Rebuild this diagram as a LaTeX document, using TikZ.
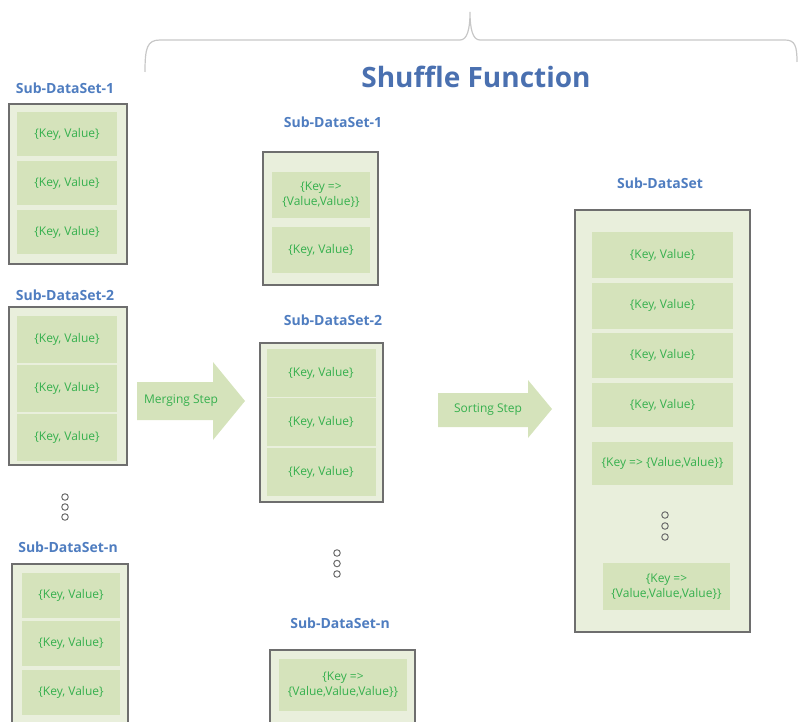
\documentclass[tikz,border=0pt]{standalone}
\usepackage{fontspec}
\setmainfont{Open Sans}
\definecolor{boxfill}{HTML}{E9EFDC}
\definecolor{cellfill}{HTML}{D5E3BB}
\definecolor{celltext}{HTML}{36B04E}
\definecolor{labelblue}{HTML}{4F7DC0}
\definecolor{titleblue}{HTML}{4A70B0}
\definecolor{edge}{HTML}{6E6E6E}
\tikzset{
  outer/.style={draw=edge, line width=1.3pt, fill=boxfill, inner sep=0pt},
  cell/.style={fill=cellfill, text=celltext, inner sep=0pt, align=center, font=\fontsize{12}{15}\selectfont},
  dslabel/.style={text=labelblue, font=\fontsize{14}{16}\selectfont\bfseries},
  dotc/.style={draw=edge, line width=1pt, circle, inner sep=0pt, minimum size=6.5pt},
  steparrow/.style={fill=cellfill, draw=none},
  steptext/.style={text=celltext, font=\fontsize{12}{14}\selectfont}
}
\begin{document}
\begin{tikzpicture}[x=1pt,y=-1pt]
\useasboundingbox (0,0) rectangle (798,722);
\clip (0,0) rectangle (798,722);
% brace
\draw[draw=black!22, line width=1.2pt] (145,72) .. controls (145,48) and (147,40) .. (160,40) -- (460,40) .. controls (467,40) and (470,30) .. (470,12) .. controls (470,30) and (473,40) .. (480,40) -- (785,40) .. controls (795,40) and (797,46) .. (797,62);
\node[text=titleblue, font=\fontsize{28}{32}\selectfont\bfseries] (title) at (476,77) {Shuffle Function};

% left column
\node[dslabel] (lab1) at (65,88) {Sub-DataSet-1};
\node[outer, minimum width=118pt, minimum height=160pt] (L1) at (68,184) {};
\node[cell, minimum width=100pt, minimum height=44pt] (L1a) at (67,134) {\{Key, Value\}};
\node[cell, minimum width=100pt, minimum height=44pt] (L1b) at (67,183) {\{Key, Value\}};
\node[cell, minimum width=100pt, minimum height=44pt] (L1c) at (67,232) {\{Key, Value\}};

\node[dslabel] (lab2) at (65,295) {Sub-DataSet-2};
\node[outer, minimum width=118pt, minimum height=158pt] (L2) at (68,386) {};
\node[cell, minimum width=100pt, minimum height=47pt] (L2a) at (67,339) {\{Key, Value\}};
\node[cell, minimum width=100pt, minimum height=47pt] (L2b) at (67,388) {\{Key, Value\}};
\node[cell, minimum width=100pt, minimum height=47pt] (L2c) at (67,437) {\{Key, Value\}};

\node[dotc] (ld1) at (65,497) {};
\node[dotc] (ld2) at (65,507) {};
\node[dotc] (ld3) at (65,517) {};

\node[dslabel] (labn) at (68,547) {Sub-DataSet-n};
\node[outer, minimum width=116pt, minimum height=176pt] (Ln) at (70,652) {};
\node[cell, minimum width=98pt, minimum height=45pt] (Lna) at (71,595) {\{Key, Value\}};
\node[cell, minimum width=98pt, minimum height=45pt] (Lnb) at (71,643) {\{Key, Value\}};
\node[cell, minimum width=98pt, minimum height=45pt] (Lnc) at (71,692) {\{Key, Value\}};

% merging arrow
\draw[steparrow] (137,382) -- (213,382) -- (213,362) -- (245,401) -- (213,440) -- (213,420) -- (137,420) -- cycle;
\node[steptext] (merge) at (181,401) {Merging Step};

% middle column
\node[dslabel] (mlab1) at (333,122) {Sub-DataSet-1};
\node[outer, minimum width=115pt, minimum height=133pt] (M1) at (320.5,218.5) {};
\node[cell, minimum width=98pt, minimum height=46pt] (M1a) at (321,195) {\{Key =>\\\{Value,Value\}\}};
\node[cell, minimum width=98pt, minimum height=46pt] (M1b) at (321,250) {\{Key, Value\}};

\node[dslabel] (mlab2) at (333,320) {Sub-DataSet-2};
\node[outer, minimum width=123pt, minimum height=159pt] (M2) at (321.5,422.5) {};
\node[cell, minimum width=109pt, minimum height=48pt] (M2a) at (321,373) {\{Key, Value\}};
\node[cell, minimum width=109pt, minimum height=48pt] (M2b) at (321,422) {\{Key, Value\}};
\node[cell, minimum width=109pt, minimum height=48pt] (M2c) at (321,472) {\{Key, Value\}};

\node[dotc] (md1) at (337,553) {};
\node[dotc] (md2) at (337,563.5) {};
\node[dotc] (md3) at (337,574) {};

\node[dslabel] (mlabn) at (340,623) {Sub-DataSet-n};
\node[outer, minimum width=145pt, minimum height=90pt] (Mn) at (342.5,695) {};
\node[cell, minimum width=128pt, minimum height=52pt] (Mna) at (343,685) {\{Key =>\\\{Value,Value,Value\}\}};

% sorting arrow
\draw[steparrow] (438,393) -- (528,393) -- (528,380) -- (552,409) -- (528,438) -- (528,427) -- (438,427) -- cycle;
\node[steptext] (sort) at (488,410) {Sorting Step};

% right column
\node[dslabel] (rlab) at (660,183) {Sub-DataSet};
\node[outer, minimum width=175pt, minimum height=422pt] (R) at (662.5,421) {};
\node[cell, minimum width=141pt, minimum height=46pt] (Ra) at (662.5,255) {\{Key, Value\}};
\node[cell, minimum width=141pt, minimum height=46pt] (Rb) at (662.5,305.5) {\{Key, Value\}};
\node[cell, minimum width=141pt, minimum height=45pt] (Rc) at (662.5,355.5) {\{Key, Value\}};
\node[cell, minimum width=141pt, minimum height=44pt] (Rd) at (662.5,405) {\{Key, Value\}};
\node[cell, minimum width=141pt, minimum height=43pt] (Re) at (662.5,463.5) {\{Key => \{Value,Value\}\}};
\node[dotc] (rd1) at (665,515) {};
\node[dotc] (rd2) at (665,526) {};
\node[dotc] (rd3) at (665,537) {};
\node[cell, minimum width=127pt, minimum height=47pt] (Rf) at (666.5,586.5) {\{Key =>\\\{Value,Value,Value\}\}};
\end{tikzpicture}
\end{document}
